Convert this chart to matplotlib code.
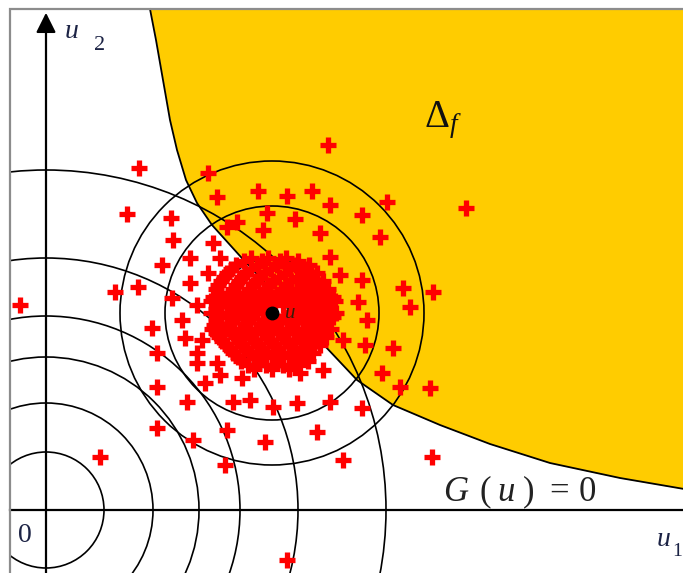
import numpy as np
import matplotlib
matplotlib.use('Agg')
import matplotlib.pyplot as plt
from matplotlib.patches import Circle, Rectangle

plt.rcParams['font.family'] = ['Liberation Serif', 'DejaVu Serif']
plt.rcParams['mathtext.fontset'] = 'custom'
plt.rcParams['mathtext.rm'] = 'Liberation Serif'
plt.rcParams['mathtext.it'] = 'Liberation Serif:italic'

# limit state surface G(u) = 0 in the (u1, u2) plane
g_u1 = [104, 110, 117, 124, 131, 140, 151, 166, 194, 224, 261, 311, 347, 394, 444, 504, 574, 644]
g_u2 = [501, 470, 430, 390, 360, 330, 307, 285, 254, 222, 183, 130, 105, 85, 66, 47, 32, 20]

# design point u and contour radii
design_pt = (226, 197)
origin_radii = [58, 107, 153, 194, 252, 340]
design_radii = [55, 107, 152]

# scattered samples
sparse_pts = np.array([
    (93, 342), (162, 337), (171, 313), (81, 296), (125, 292), (212, 319), (241, 314),
    (221, 297), (181, 283), (191, 288), (217, 280), (127, 270), (282, 365), (266, 319),
    (284, 305), (341, 308), (316, 295), (420, 302), (249, 291), (274, 277), (334, 273),
    (167, 267), (144, 252), (116, 245), (174, 252), (162, 237), (144, 227), (-26, 205),
    (69, 218), (92, 223), (126, 212), (151, 205), (136, 190), (106, 182), (139, 172),
    (156, 170), (111, 157), (151, 157), (284, 253), (294, 235), (316, 230), (357, 222),
    (387, 218), (364, 203), (312, 208), (321, 190), (297, 170), (319, 165), (347, 162),
    (111, 123), (141, 108), (111, 82), (147, 70), (54, 53), (181, 80), (179, 45),
    (219, 68), (159, 127), (174, 135), (196, 132), (187, 108), (204, 110), (227, 103),
    (171, 147), (151, 147), (336, 137), (354, 123), (384, 122), (284, 108), (316, 102),
    (271, 78), (297, 50), (386, 53), (254, 137), (277, 140), (251, 107), (241, -50),
])

# samples packed around the design point
dense_pts = np.array([
    (205, 252), (222, 252), (240, 252),
    (198, 249), (216, 249), (234, 249), (252, 249),
    (190, 245), (212, 245), (231, 245), (250, 245), (263, 245),
    (185, 241), (205, 241), (225, 241), (244, 241), (260, 241),
    (181, 237), (199, 237), (219, 237), (239, 237), (257, 237), (271, 237),
    (178, 233), (196, 233), (214, 233), (233, 233), (251, 233), (266, 233),
    (175, 229), (193, 229), (210, 229), (227, 229), (245, 229), (262, 229), (277, 229),
    (172, 225), (190, 225), (207, 225), (223, 225), (240, 225), (256, 225), (272, 225),
    (170, 221), (187, 221), (203, 221), (219, 221), (236, 221), (251, 221), (266, 221), (282, 221),
    (175, 217), (191, 217), (206, 217), (221, 217), (238, 217), (253, 217), (268, 217), (280, 217),
    (167, 213), (182, 213), (198, 213), (213, 213), (229, 213), (246, 213), (260, 213), (274, 213), (287, 213),
    (165, 209), (180, 209), (197, 209), (213, 209), (229, 209), (245, 209), (260, 209), (275, 209), (289, 209),
    (172, 205), (189, 205), (205, 205), (221, 205), (237, 205), (252, 205), (268, 205), (283, 205),
    (170, 201), (186, 201), (203, 201), (219, 201), (250, 201), (266, 201), (282, 201),
    (165, 197), (181, 197), (196, 197), (211, 197), (243, 197), (259, 197), (276, 197), (290, 197),
    (174, 193), (190, 193), (206, 193), (222, 193), (240, 193), (256, 193), (272, 193), (287, 193),
    (170, 189), (186, 189), (202, 189), (218, 189), (233, 189), (249, 189), (264, 189), (280, 189),
    (168, 185), (183, 185), (199, 185), (215, 185), (230, 185), (246, 185), (262, 185), (277, 185),
    (166, 181), (180, 181), (195, 181), (210, 181), (226, 181), (241, 181), (257, 181), (272, 181), (285, 181),
    (170, 177), (187, 177), (203, 177), (218, 177), (233, 177), (248, 177), (263, 177), (276, 177),
    (173, 173), (190, 173), (205, 173), (221, 173), (237, 173), (253, 173), (268, 173), (280, 173),
    (176, 169), (193, 169), (209, 169), (225, 169), (241, 169), (256, 169), (271, 169),
    (180, 165), (196, 165), (212, 165), (228, 165), (244, 165), (260, 165), (274, 165),
    (184, 161), (200, 161), (216, 161), (232, 161), (248, 161), (263, 161),
    (187, 157), (203, 157), (219, 157), (236, 157), (252, 157), (267, 157),
    (192, 153), (209, 153), (226, 153), (243, 153), (258, 153),
    (195, 149), (213, 149), (231, 149), (248, 149), (262, 149),
    (202, 145), (220, 145), (237, 145), (253, 145),
    (208, 141), (226, 141), (243, 141),
])

fig = plt.figure(figsize=(6.83, 5.73), dpi=100)
ax = fig.add_axes([0, 0, 1, 1])
ax.set_xlim(-46, 637)
ax.set_ylim(-63, 510)
ax.axis('off')

frame = Rectangle((-36, -200), 1000, 701, fill=False, ec='#8c8c8c', lw=1.6, zorder=8)
ax.add_patch(frame)

# failure domain
fill = ax.fill_between(g_u1, g_u2, 501, color='#FFCC00', lw=0, zorder=0)
fill.set_clip_path(frame)
ax.plot(g_u1, g_u2, color='k', lw=1.3, zorder=3, clip_path=frame)

for r in origin_radii:
    c = Circle((0, 0), r, fill=False, ec='k', lw=1.2, zorder=2)
    ax.add_patch(c)
    c.set_clip_path(frame)
for r in design_radii:
    c = Circle(design_pt, r, fill=False, ec='k', lw=1.2, zorder=2)
    ax.add_patch(c)
    c.set_clip_path(frame)

# coordinate axes
ax.plot([-36, 700], [0, 0], color='k', lw=1.6, zorder=2)
ax.annotate('', xy=(0, 500), xytext=(0, -70),
            arrowprops=dict(arrowstyle='-|>', mutation_scale=30, lw=1.6, color='k'),
            zorder=2)

pts = np.vstack([sparse_pts, dense_pts])
ax.plot(pts[:, 0], pts[:, 1], ls='none', marker='+', color='#ff0000',
        ms=12, mew=3.8, zorder=4)
ax.plot(*design_pt, 'o', color='k', ms=9, zorder=5)
ax.text(238, 197, r'$u$', fontsize=15, color='#3a1c08', va='center', zorder=5)

navy = '#1c2345'
ax.text(25, 479, r'$u$', fontsize=20, color=navy, ha='center', va='center')
ax.text(54, 465, '2', fontsize=16, color=navy, ha='center', va='center')
ax.text(-21, -25, '0', fontsize=20, color=navy, ha='center', va='center')
ax.text(617, -30, r'$u$', fontsize=20, color=navy, ha='center', va='center')
ax.text(631, -42, '1', fontsize=14, color=navy, ha='center', va='center')
ax.text(397, 390, r'$\Delta_f$', fontsize=28, color='#111111', ha='center', va='center')
ax.text(474, 18, r'$G\;\,(\;u\;)\;\,=\,0$', fontsize=25, color='#222222',
        ha='center', va='center')

fig.savefig('out.png', dpi=100)
